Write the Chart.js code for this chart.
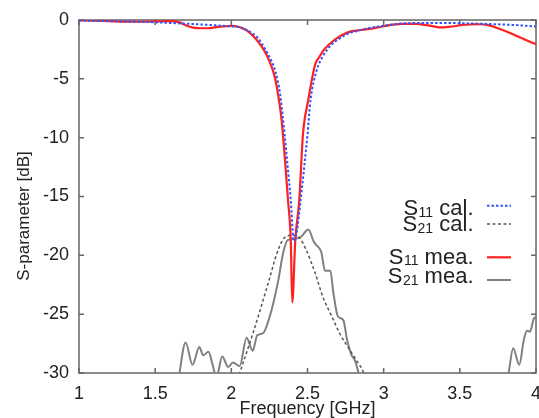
<!DOCTYPE html>
<html>
<head>
<meta charset="utf-8">
<script src="https://cdn.jsdelivr.net/npm/chart.js@4/dist/chart.umd.min.js"></script>
<style>
html,body{margin:0;padding:0;background:#fff;}
#wrap{width:539px;height:418px;position:relative;}
</style>
</head>
<body>
<div id="wrap"><canvas id="c" width="539" height="418"></canvas></div>
<script>
// ---- data ----
const xTicks = [1, 1.5, 2, 2.5, 3, 3.5, 4];
const yTicks = [0, -5, -10, -15, -20, -25, -30];
const xTitle = 'Frequency [GHz]';
const yTitle = 'S-parameter [dB]';

const s11CalF  = [1.0, 1.2, 1.4, 1.6, 1.8, 1.9, 2.0, 2.06, 2.1, 2.14, 2.17, 2.2, 2.23, 2.26, 2.29, 2.32, 2.35, 2.37, 2.39, 2.41, 2.43, 2.455, 2.48, 2.5, 2.52, 2.56, 2.6, 2.65, 2.7, 2.76, 2.82, 2.9, 2.98, 3.1, 3.3, 3.5, 3.7, 3.85, 4.0];
const s11CalDB = [-0.05, -0.1, -0.15, -0.25, -0.38, -0.45, -0.55, -0.62, -0.85, -1.15, -1.46, -2.0, -2.66, -3.4, -4.4, -6.3, -9.75, -12.5, -15.3, -18.8, -18.0, -15.3, -12.3, -9.75, -6.8, -4.3, -3.1, -2.2, -1.66, -1.2, -0.95, -0.7, -0.53, -0.32, -0.25, -0.27, -0.35, -0.42, -0.55];

const s21CalF  = [2.04, 2.055, 2.14, 2.195, 2.25, 2.3, 2.345, 2.4, 2.45, 2.49, 2.55, 2.6, 2.66, 2.71, 2.78, 2.83, 2.87, 2.885];
const s21CalDB = [-30.6, -30.0, -26.7, -24.4, -22.0, -19.8, -18.55, -18.3, -18.55, -19.5, -21.5, -23.5, -25.2, -26.6, -28.1, -29.1, -30.0, -30.6];

const s11MeaF  = [1.0, 1.1, 1.2, 1.3, 1.4, 1.5, 1.6, 1.66, 1.7, 1.75, 1.8, 1.85, 1.9, 1.95, 2.0, 2.04, 2.08, 2.12, 2.16, 2.19, 2.22, 2.25, 2.28, 2.3, 2.33, 2.35, 2.372, 2.39, 2.4, 2.42, 2.446, 2.47, 2.505, 2.55, 2.58, 2.6, 2.64, 2.68, 2.73, 2.79, 2.85, 2.91, 3.0, 3.06, 3.13, 3.2, 3.29, 3.35, 3.39, 3.45, 3.52, 3.57, 3.63, 3.68, 3.75, 3.83, 3.9, 3.98, 4.0];
const s11MeaDB = [-0.02, -0.05, -0.1, -0.15, -0.15, -0.12, -0.1, -0.2, -0.45, -0.65, -0.7, -0.7, -0.6, -0.55, -0.5, -0.55, -0.75, -1.07, -1.6, -2.1, -2.7, -3.5, -4.6, -5.8, -8.5, -11.5, -15.3, -18.7, -24.0, -18.7, -15.3, -9.75, -6.8, -3.8, -3.1, -2.66, -2.1, -1.66, -1.25, -0.95, -0.85, -0.75, -0.53, -0.4, -0.33, -0.33, -0.45, -0.6, -0.62, -0.55, -0.42, -0.38, -0.36, -0.42, -0.7, -1.1, -1.5, -1.95, -2.05];

const s21MeaF  = [1.65, 1.66, 1.7, 1.745, 1.79, 1.815, 1.85, 1.875, 1.89, 1.9, 1.913, 1.94, 1.98, 2.01, 2.055, 2.1, 2.14, 2.17, 2.21, 2.24, 2.275, 2.31, 2.34, 2.37, 2.42, 2.46, 2.505, 2.54, 2.555, 2.59, 2.615, 2.65, 2.67, 2.7, 2.735, 2.76, 2.79, 2.81, 2.835, 2.85, 3.3, 3.8, 3.82, 3.85, 3.89, 3.92, 3.94, 3.96, 3.985, 4.0];
const s21MeaDB = [-31.0, -30.0, -27.4, -29.3, -27.8, -28.5, -28.2, -29.2, -30.0, -30.6, -30.0, -28.6, -29.5, -29.1, -29.4, -27.0, -28.1, -26.8, -26.6, -25.7, -24.1, -22.0, -19.8, -18.7, -18.6, -18.4, -17.8, -18.8, -19.1, -19.7, -21.3, -21.3, -23.2, -25.2, -25.5, -27.2, -28.5, -28.9, -30.0, -31.0, null, -31.0, -30.0, -27.9, -29.3, -27.2, -26.4, -26.5, -25.4, -25.2];

const legendEntries = [
  {sub: '11', rest: ' cal.', key: 0},
  {sub: '21', rest: ' cal.', key: 1},
  {sub: '11', rest: ' mea.', key: 2},
  {sub: '21', rest: ' mea.', key: 3}
];

const pts = (f, v) => f.map((x, i) => ({x: x, y: v[i]}));
const FONT = '"Liberation Sans", Arial, sans-serif';
const AXIS = '#666666';
const TXT = '#222222';

const framePlugin = {
  id: 'frame',
  beforeDatasetsDraw(chart) {
    const {ctx, chartArea: a, scales} = chart;
    ctx.save();
    ctx.strokeStyle = AXIS;
    ctx.lineWidth = 1.5;
    ctx.strokeRect(a.left, a.top, a.right - a.left, a.bottom - a.top);
    const L = 5;
    ctx.beginPath();
    xTicks.forEach(v => {
      const px = scales.x.getPixelForValue(v);
      ctx.moveTo(px, a.bottom); ctx.lineTo(px, a.bottom - L);
      ctx.moveTo(px, a.top); ctx.lineTo(px, a.top + L);
    });
    yTicks.forEach(v => {
      const py = scales.y.getPixelForValue(v);
      ctx.moveTo(a.left, py); ctx.lineTo(a.left + L, py);
      ctx.moveTo(a.right, py); ctx.lineTo(a.right - L, py);
    });
    ctx.stroke();
    // y axis title
    ctx.fillStyle = TXT;
    ctx.font = '17px ' + FONT;
    ctx.textAlign = 'center';
    ctx.textBaseline = 'middle';
    ctx.translate(24, 216);
    ctx.rotate(-Math.PI / 2);
    ctx.fillText(yTitle, 0, 0);
    ctx.restore();
  }
};

const legendPlugin = {
  id: 'subLegend',
  afterDraw(chart) {
    const {ctx} = chart;
    const rows = [
      {base: 215, line: 205.7},
      {base: 231, line: 224},
      {base: 263.5, line: 257.3},
      {base: 283, line: 280}
    ];
    const rightX = 473;
    ctx.save();
    legendEntries.forEach((e, i) => {
      const r = rows[i];
      const big = '22px ' + FONT, small = '14px ' + FONT;
      ctx.fillStyle = TXT;
      ctx.textBaseline = 'alphabetic';
      ctx.textAlign = 'left';
      ctx.font = big;
      const wRest = ctx.measureText(e.rest).width;
      const wS = ctx.measureText('S').width;
      ctx.font = small;
      const wSub = ctx.measureText(e.sub).width;
      let x = rightX - wRest - wSub - wS;
      ctx.font = big; ctx.fillText('S', x, r.base); x += wS;
      ctx.font = small; ctx.fillText(e.sub, x + 0.5, r.base + 1.5); x += wSub + 0.5;
      ctx.font = big; ctx.fillText(e.rest, x, r.base);
      const ds = chart.data.datasets[e.key];
      ctx.strokeStyle = ds.borderColor;
      ctx.lineWidth = ds.borderWidth;
      ctx.setLineDash(ds.borderDash || []);
      ctx.beginPath();
      ctx.moveTo(487, r.line); ctx.lineTo(511, r.line);
      ctx.stroke();
      ctx.setLineDash([]);
    });
    ctx.restore();
  }
};

new Chart(document.getElementById('c'), {
  type: 'line',
  data: {
    datasets: [
      {label: 'S11 cal.', data: pts(s11CalF, s11CalDB), borderColor: '#2f55ff', borderWidth: 2, borderDash: [2.5, 2], pointRadius: 0, cubicInterpolationMode: 'monotone', order: 1},
      {label: 'S21 cal.', data: pts(s21CalF, s21CalDB), borderColor: '#555555', borderWidth: 1.5, borderDash: [3, 2.5], pointRadius: 0, cubicInterpolationMode: 'monotone', order: 3},
      {label: 'S11 mea.', data: pts(s11MeaF, s11MeaDB), borderColor: '#ff2020', borderWidth: 2.2, pointRadius: 0, cubicInterpolationMode: 'monotone', order: 2},
      {label: 'S21 mea.', data: pts(s21MeaF, s21MeaDB), borderColor: '#808080', borderWidth: 2, pointRadius: 0, cubicInterpolationMode: 'monotone', spanGaps: false, order: 4}
    ]
  },
  options: {
    responsive: false,
    animation: false,
    devicePixelRatio: 1,
    layout: {padding: {top: 20, right: 3, left: 0, bottom: 0}},
    plugins: {legend: {display: false}, tooltip: {enabled: false}},
    scales: {
      x: {
        type: 'linear', min: 1, max: 4,
        afterBuildTicks(s) { s.ticks = xTicks.map(v => ({value: v})); },
        afterFit(s) { s.height = 45; s.paddingLeft = 0; s.paddingRight = 0; },
        grid: {display: false, drawTicks: false},
        border: {display: false},
        ticks: {padding: 10.5, color: TXT, font: {family: FONT, size: 18}, maxRotation: 0, autoSkip: false, callback: v => String(v)},
        title: {display: true, text: xTitle, color: TXT, font: {family: FONT, size: 18, lineHeight: 1.0}, padding: {top: 0, bottom: 0}}
      },
      y: {
        type: 'linear', min: -30, max: 0,
        afterBuildTicks(s) { s.ticks = yTicks.map(v => ({value: v})); },
        afterFit(s) { s.width = 79; s.paddingTop = 0; s.paddingBottom = 0; },
        grid: {display: false, drawTicks: false},
        border: {display: false},
        ticks: {padding: 10, color: TXT, font: {family: FONT, size: 18}, autoSkip: false, callback: v => String(v)},
        title: {display: false}
      }
    }
  },
  plugins: [framePlugin, legendPlugin]
});
</script>
</body>
</html>
